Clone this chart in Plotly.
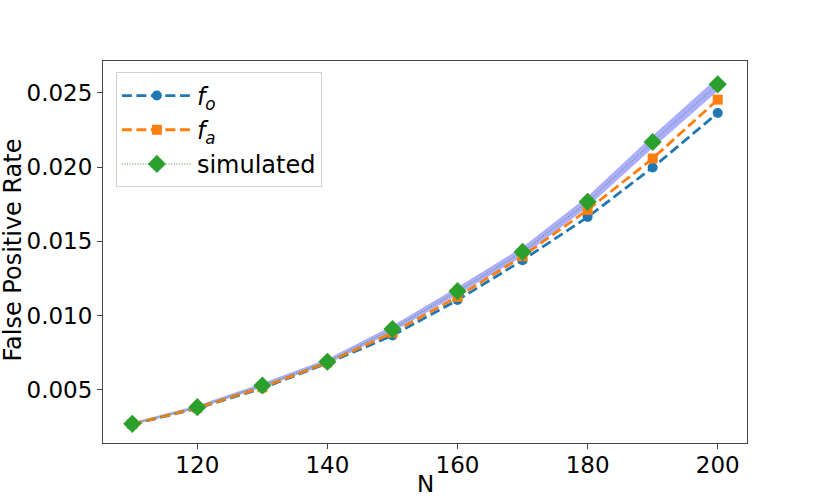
import plotly.graph_objects as go

N = [110, 120, 130, 140, 150, 160, 170, 180, 190, 200]
f_o = [0.00268, 0.00376, 0.00512, 0.00680, 0.00866, 0.01105, 0.01373, 0.01664, 0.01997, 0.02364]
f_a = [0.00270, 0.00380, 0.00518, 0.00685, 0.00885, 0.01127, 0.01400, 0.01712, 0.02058, 0.02454]
simulated = [0.00272, 0.00384, 0.00530, 0.00690, 0.00910, 0.01165, 0.01429, 0.01766, 0.02169, 0.02557]
sim_lower = [0.00264, 0.00374, 0.00517, 0.00674, 0.00890, 0.01141, 0.01399, 0.01731, 0.02129, 0.02512]
sim_upper = [0.00280, 0.00394, 0.00543, 0.00706, 0.00930, 0.01189, 0.01459, 0.01801, 0.02209, 0.02602]

FONT = "DejaVu Sans"
fig = go.Figure()

fig.add_trace(go.Scatter(x=N, y=sim_lower, mode="lines", line=dict(width=0, color="rgba(0,0,255,0)"),
                         showlegend=False, hoverinfo="skip"))
fig.add_trace(go.Scatter(x=N, y=sim_upper, mode="lines", line=dict(width=0.5, color="rgba(90,90,240,0.45)"),
                         fill="tonexty", fillcolor="rgba(40,40,255,0.38)", showlegend=False, hoverinfo="skip"))

fig.add_trace(go.Scatter(x=N, y=f_o, mode="lines+markers", name="<i>f</i><sub><i>o</i></sub>",
                         line=dict(color="#1f77b4", width=2.8, dash="10px,4.5px"),
                         marker=dict(symbol="circle", size=10, color="#1f77b4")))
fig.add_trace(go.Scatter(x=N, y=f_a, mode="lines+markers", name="<i>f</i><sub><i>a</i></sub>",
                         line=dict(color="#ff7f0e", width=2.8, dash="10px,4.5px"),
                         marker=dict(symbol="square", size=10, color="#ff7f0e")))
fig.add_trace(go.Scatter(x=N, y=simulated, mode="lines+markers", name="simulated",
                         line=dict(color="#2ca02c", width=1, dash="1px,1.6px"),
                         marker=dict(symbol="diamond", size=14, color="#2ca02c")))

axis_common = dict(showline=True, linecolor="#444", linewidth=1, mirror=True, ticks="outside",
                   ticklen=5, tickwidth=1, tickcolor="#444", showgrid=False, zeroline=False,
                   automargin=False,
                   tickfont=dict(family=FONT, size=23, color="black"))

fig.update_xaxes(range=[105.5, 204.5], tickvals=[120, 140, 160, 180, 200],
                 ticklabelstandoff=-4, **axis_common)
fig.update_yaxes(range=[0.00143, 0.02714], tickvals=[0.005, 0.010, 0.015, 0.020, 0.025],
                 tickformat=".3f", **axis_common)

fig.add_annotation(text="N", xref="paper", yref="paper", x=0.5, y=-0.107,
                   xanchor="center", yanchor="middle", showarrow=False,
                   font=dict(family=FONT, size=23, color="black"))
fig.add_annotation(text="False Positive Rate", xref="paper", yref="paper", x=-0.14, y=0.506,
                   xanchor="center", yanchor="middle", textangle=-90, showarrow=False,
                   font=dict(family=FONT, size=24, color="black"))

fig.update_layout(
    width=830, height=498,
    margin=dict(l=103, r=83, t=61, b=55),
    plot_bgcolor="white", paper_bgcolor="white",
    font=dict(family=FONT, size=23, color="black"),
    legend=dict(x=0.02, y=0.97, xanchor="left", yanchor="top", traceorder="normal",
                bgcolor="rgba(255,255,255,0.8)", bordercolor="#d0d0d0", borderwidth=1,
                font=dict(family=FONT, size=24, color="black"), itemwidth=70,
                tracegroupgap=0),
    showlegend=True,
)

fig.write_html("out.html", config={"displayModeBar": False},
               post_script="document.body.style.margin='0';document.body.style.overflow='hidden';")
